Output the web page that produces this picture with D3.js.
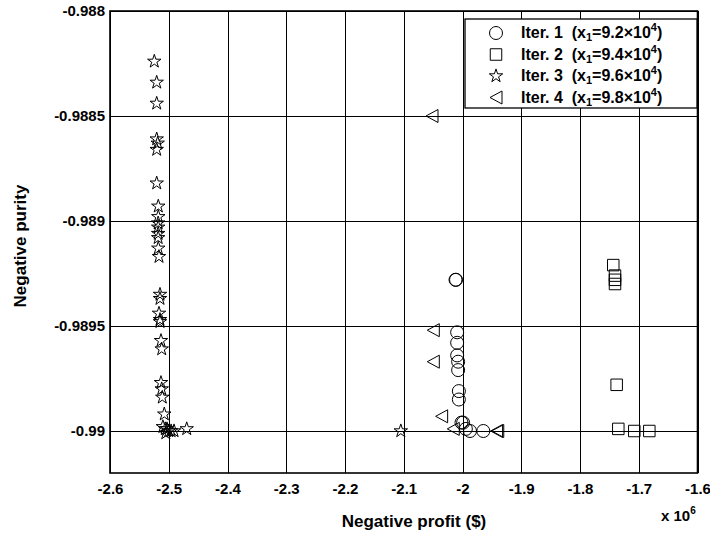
<!DOCTYPE html>
<meta charset="utf-8">
<style>
body { margin: 0; background: #fff; }
text { font-family: "Liberation Sans", Arial, sans-serif; font-weight: bold; fill: #000; }
.grid line { stroke: #000; stroke-width: 1px; shape-rendering: crispEdges; }
.grid path { display: none; }
.mark { fill: none; stroke: #000; stroke-width: 1px; }
</style>
<body></body>
<script src="https://d3js.org/d3.v7.min.js"></script>
<script>

// x values are in units of 10^6
var xTicks = [-2.6, -2.5, -2.4, -2.3, -2.2, -2.1, -2, -1.9, -1.8, -1.7, -1.6],
    xTickLabels = ["-2.6", "-2.5", "-2.4", "-2.3", "-2.2", "-2.1", "-2", "-1.9", "-1.8", "-1.7", "-1.6"],
    yTicks = [-0.988, -0.9885, -0.989, -0.9895, -0.99],
    yTickLabels = ["-0.988", "-0.9885", "-0.989", "-0.9895", "-0.99"];

var iter1X = [-2.0119, -2.0110, -2.0091, -2.0091, -2.0091, -2.0074, -2.0074, -2.0062, -2.0062, -2.0017, -1.999, -1.9943, -1.9872, -1.9646],
    iter1Y = [-0.98928, -0.98928, -0.98953, -0.98958, -0.98964, -0.98967, -0.98971, -0.98981, -0.98985, -0.98996, -0.98996, -0.98999, -0.99, -0.99];

var iter2X = [-1.7434, -1.7404, -1.7404, -1.7404, -1.7376, -1.7348, -1.7076, -1.682],
    iter2Y = [-0.98921, -0.98926, -0.98928, -0.98930, -0.98978, -0.98999, -0.99, -0.99];

var iter3X = [-2.5246, -2.5205, -2.5205, -2.5205, -2.5188, -2.5205, -2.5205, -2.5178, -2.5178, -2.518,
              -2.518, -2.518, -2.518, -2.5178, -2.5166, -2.5149, -2.5149, -2.5166, -2.5149, -2.5149,
              -2.5132, -2.512, -2.5132, -2.512, -2.511, -2.5076, -2.510, -2.506, -2.503, -2.500,
              -2.496, -2.491, -2.505, -2.4694, -2.105],
    iter3Y = [-0.98824, -0.98834, -0.98844, -0.98861, -0.98863, -0.98866, -0.98882, -0.98893, -0.98898, -0.98901,
              -0.98903, -0.98906, -0.98908, -0.98913, -0.98917, -0.98935, -0.98937, -0.98944, -0.98947, -0.98948,
              -0.98957, -0.98961, -0.98977, -0.98980, -0.98984, -0.98992, -0.98998, -0.98999, -0.98999, -0.99,
              -0.99, -0.99, -0.99001, -0.98999, -0.99];

var iter4X = [-2.0519, -2.0497, -2.0497, -2.0355, -2.0157, -1.942, -1.940],
    iter4Y = [-0.9885, -0.98952, -0.98967, -0.98993, -0.98999, -0.99, -0.99];

var legendLabels = ["Iter. 1", "Iter. 2", "Iter. 3", "Iter. 4"],
    legendX1 = ["9.2", "9.4", "9.6", "9.8"];

var width = 710, height = 536,
    pL = 110, pR = 697.5, pT = 11, pB = 473;

var svg = d3.select("body").append("svg")
    .attr("width", width)
    .attr("height", height);

var x = d3.scaleLinear().domain([-2.6, -1.6]).range([pL, pR]),
    y = d3.scaleLinear().domain([-0.9902, -0.988]).range([pB, pT]);

// grid + tick labels
svg.append("g")
    .attr("class", "grid")
    .attr("transform", "translate(0," + pB + ")")
    .call(d3.axisBottom(x).tickValues(xTicks).tickSize(-(pB - pT)).tickPadding(10)
      .tickFormat(function(d, i) { return xTickLabels[i]; }))
    .selectAll("text").style("font-size", "15px");

svg.append("g")
    .attr("class", "grid")
    .attr("transform", "translate(" + pL + ",0)")
    .call(d3.axisLeft(y).tickValues(yTicks).tickSize(-(pR - pL)).tickPadding(5)
      .tickFormat(function(d, i) { return yTickLabels[i]; }))
    .selectAll("text").style("font-size", "15px");

svg.selectAll(".grid text").attr("fill", "#000");

// box
svg.append("rect")
    .attr("x", pL).attr("y", pT)
    .attr("width", pR - pL).attr("height", pB - pT)
    .attr("fill", "none").attr("stroke", "#000").attr("stroke-width", 1.6);

// marker shapes
var circlePath = d3.symbol().type(d3.symbolCircle).size(Math.PI * 6.5 * 6.5)(),
    squarePath = d3.symbol().type(d3.symbolSquare).size(11.5 * 11.5)(),
    starPath = d3.symbol().type(d3.symbolStar).size(56)(),
    triPath = "M-6,0L6,-6.5L6,6.5Z";

function drawSeries(xs, ys, path) {
  svg.append("g").selectAll("path")
    .data(xs.map(function(v, i) { return [v, ys[i]]; }))
    .enter().append("path")
      .attr("class", "mark")
      .attr("d", path)
      .attr("transform", function(d) { return "translate(" + x(d[0]) + "," + y(d[1]) + ")"; });
}

drawSeries(iter3X, iter3Y, starPath);
drawSeries(iter1X, iter1Y, circlePath);
drawSeries(iter2X, iter2Y, squarePath);
drawSeries(iter4X, iter4Y, triPath);

// legend
var lg = svg.append("g");
lg.append("rect")
    .attr("x", 465).attr("y", 19).attr("width", 232).attr("height", 89)
    .attr("fill", "#fff").attr("stroke", "#000").attr("stroke-width", 1.3);

var legendPaths = [circlePath, squarePath, starPath, triPath];
legendLabels.forEach(function(lab, i) {
  var cy = 33 + i * 21.5;
  lg.append("path").attr("class", "mark").attr("d", legendPaths[i])
      .attr("transform", "translate(496," + cy + ")");
  var t = lg.append("text").attr("x", 521).attr("y", cy + 5).style("font-size", "16px");
  t.append("tspan").text(lab + "\u00a0\u00a0(x");
  t.append("tspan").attr("dy", 3).style("font-size", "11px").text("1");
  t.append("tspan").attr("dy", -3).text("=" + legendX1[i] + "\u00d710");
  t.append("tspan").attr("dy", -7).style("font-size", "11px").text("4");
  t.append("tspan").attr("dy", 7).text(")");
});

// axis labels
svg.append("text")
    .attr("x", 414).attr("y", 527)
    .attr("text-anchor", "middle").style("font-size", "17px")
    .text("Negative profit ($)");

var ex = svg.append("text").attr("x", 661).attr("y", 521).style("font-size", "15px");
ex.append("tspan").text("x 10");
ex.append("tspan").attr("dy", -7).style("font-size", "10px").text("6");

svg.append("text")
    .attr("transform", "translate(26,246) rotate(-90)")
    .attr("text-anchor", "middle").style("font-size", "17px")
    .text("Negative purity");

</script>
